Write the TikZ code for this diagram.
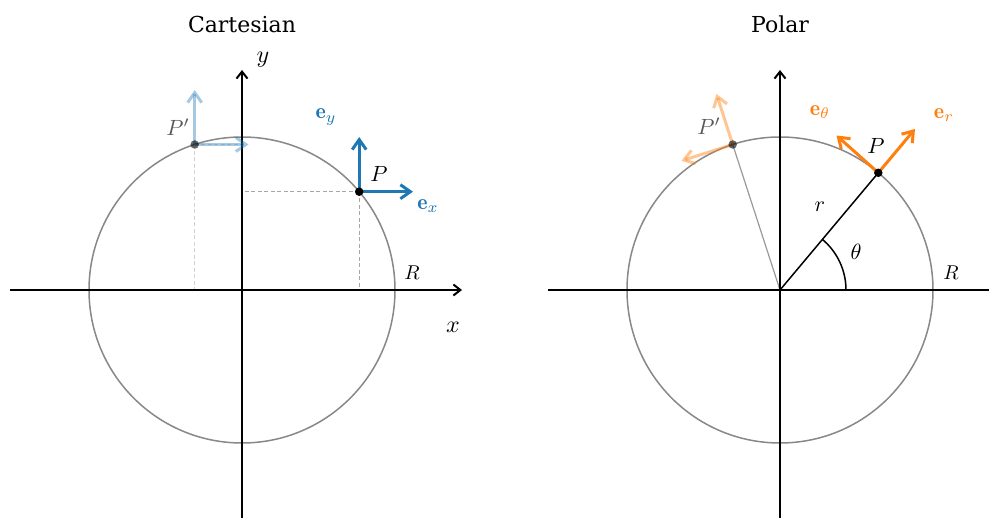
\documentclass[tikz,border=0pt]{standalone}
\usepackage{fontspec}
\newfontfamily\titlefont{DejaVu Serif}
\usetikzlibrary{arrows.meta}
\definecolor{cblue}{HTML}{1F77B4}
\definecolor{corange}{HTML}{FF7F0E}
\definecolor{circgray}{HTML}{888888}
\newcommand{\lblS}[2]{\scalebox{#1}{#2}}
\tikzset{
  axis/.style={line width=2pt, -{Straight Barb[length=7pt,width=11pt]}},
  vec/.style={line width=3pt, -{Straight Barb[length=10pt,width=14pt]}},
  ring/.style={circgray, line width=1.5pt},
  guide/.style={gray!70, line width=1pt, dash pattern=on 4pt off 2.5pt},
  dot/.style={circle, fill=black, inner sep=0pt, minimum size=8.5pt},
  ttl/.style={font=\titlefont\fontsize{22}{26}\selectfont},
  lbl/.style={inner sep=0pt},
}
\begin{document}
\begin{tikzpicture}[x=1pt,y=-1pt]
\useasboundingbox (0,0) rectangle (989,518);
\clip (0,0) rectangle (989,518);
% ---------------- Cartesian ----------------
\coordinate (OL) at (242,290);
\coordinate (XLs) at (10,290);
\coordinate (XLe) at (462,290);
\coordinate (YLs) at (242,522);
\coordinate (YLe) at (242,70);
\coordinate (PL) at (359.2,191.7);
\coordinate (PpL) at (194.7,144.5);
\coordinate (PLx) at (242,191.7);
\coordinate (PLy) at (359.2,290);
\coordinate (PpLx) at (242,144.5);
\coordinate (PpLy) at (194.7,290);
\coordinate (exE) at (413,191.7);
\coordinate (eyE) at (359.2,137);
\coordinate (exPE) at (248.5,144.5);
\coordinate (eyPE) at (194.7,90);
\draw[ring] (OL) circle (153);
\draw[guide] (PL) -- (PLx);
\draw[guide] (PL) -- (PLy);
\draw[guide, opacity=0.5] (PpL) -- (PpLx);
\draw[guide, opacity=0.5] (PpL) -- (PpLy);
\draw[axis] (XLs) -- (XLe);
\draw[axis] (YLs) -- (YLe);
\draw[vec, cblue] (PL) -- (exE);
\draw[vec, cblue] (PL) -- (eyE);
\draw[vec, cblue, opacity=0.4] (PpL) -- (exPE);
\draw[vec, cblue, opacity=0.4] (PpL) -- (eyPE);
\node[dot] (dPL) at (PL) {};
\node[dot, opacity=0.6] (dPpL) at (PpL) {};
\node[ttl] (tL) at (242,24) {Cartesian};
\node[lbl] (ylab) at (263,60) {\lblS{2.4}{$y$}};
\node[lbl] (xlab) at (453,327) {\lblS{2.4}{$x$}};
\node[lbl] (RL) at (412,273) {\lblS{2.0}{$R$}};
\node[lbl] (PLlab) at (379,174) {\lblS{2.2}{$P$}};
\node[lbl, black!65] (PpLlab) at (178,127) {\lblS{2.2}{$P'$}};
\node[lbl, cblue] (eylab) at (326,117) {\lblS{2.2}{$\mathbf{e}_y$}};
\node[lbl, cblue] (exlab) at (428,206) {\lblS{2.2}{$\mathbf{e}_x$}};
% ---------------- Polar ----------------
\coordinate (OR) at (780,290);
\coordinate (XRs) at (548,290);
\coordinate (XRe) at (1000,290);
\coordinate (YRs) at (780,522);
\coordinate (YRe) at (780,70);
\coordinate (PR) at (878.3,172.8);
\coordinate (PpR) at (732.7,144.5);
\coordinate (erE) at (915,129);
\coordinate (etE) at (836.5,135.5);
\coordinate (erPE) at (716.5,94);
\coordinate (etPE) at (681.5,160.8);
\coordinate (arcS) at (846,290);
\draw[ring] (OR) circle (153);
\draw[black!40, line width=1.2pt] (OR) -- (PpR);
\draw[black, line width=1.5pt] (OR) -- (PR);
\draw[black, line width=1.5pt] (arcS) arc[start angle=0, end angle=-50, radius=66];
\draw[axis] (XRs) -- (XRe);
\draw[axis] (YRs) -- (YRe);
\draw[vec, corange] (PR) -- (erE);
\draw[vec, corange] (PR) -- (etE);
\draw[vec, corange, opacity=0.45] (PpR) -- (erPE);
\draw[vec, corange, opacity=0.45] (PpR) -- (etPE);
\node[dot] (dPR) at (PR) {};
\node[dot, opacity=0.6] (dPpR) at (PpR) {};
\node[ttl] (tR) at (780,24) {Polar};
\node[lbl] (PRlab) at (876,146) {\lblS{2.2}{$P$}};
\node[lbl, black!65] (PpRlab) at (709,126) {\lblS{2.2}{$P'$}};
\node[lbl, corange] (etlab) at (820,112) {\lblS{2.2}{$\mathbf{e}_\theta$}};
\node[lbl, corange] (erlab) at (944,115) {\lblS{2.2}{$\mathbf{e}_r$}};
\node[lbl] (rlab) at (820,207) {\lblS{2.2}{$r$}};
\node[lbl] (thlab) at (856,252) {\lblS{2.2}{$\theta$}};
\node[lbl] (RR) at (951,273) {\lblS{2.0}{$R$}};
\end{tikzpicture}
\end{document}
